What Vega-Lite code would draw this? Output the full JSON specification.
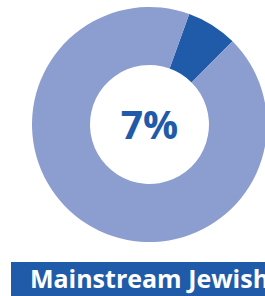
{
  "$schema": "https://vega.github.io/schema/vega-lite/v6.json",
  "padding": 0,
  "background": "white",
  "spacing": 13,
  "center": true,
  "config": {"view": {"stroke": null}, "font": "Open Sans"},
  "data": {"values": [
    {"category": "Mainstream Jewish", "share": 0.07},
    {"category": "Other", "share": 0.93}
  ]},
  "vconcat": [
    {
      "width": 299,
      "height": 249,
      "layer": [
        {
          "mark": {"type": "arc", "outerRadius": 117.5, "innerRadius": 59.5},
          "encoding": {
            "theta": {"field": "share", "type": "quantitative", "stack": true, "scale": {"range": [0.345, 6.628]}},
            "order": {"field": "share", "sort": "ascending"},
            "color": {"field": "category", "type": "nominal", "legend": null,
              "scale": {"domain": ["Mainstream Jewish", "Other"], "range": ["#1f5ba8", "#8c9dd0"]}}
          }
        },
        {
          "transform": [{"filter": "datum.category === 'Mainstream Jewish'"}],
          "mark": {"type": "text", "fontSize": 39, "fontWeight": "bold", "color": "#1f5ba8", "baseline": "middle", "align": "center", "dy": 2},
          "encoding": {"text": {"field": "share", "type": "quantitative", "format": ".0%"}}
        }
      ]
    },
    {
      "width": 277,
      "height": 36,
      "view": {"fill": "#1f5ba8", "stroke": null},
      "transform": [{"filter": "datum.category === 'Mainstream Jewish'"}],
      "mark": {"type": "text", "fontSize": 25, "fontWeight": "bold", "color": "white", "baseline": "middle", "align": "center"},
      "encoding": {"text": {"field": "category", "type": "nominal"}}
    }
  ]
}
